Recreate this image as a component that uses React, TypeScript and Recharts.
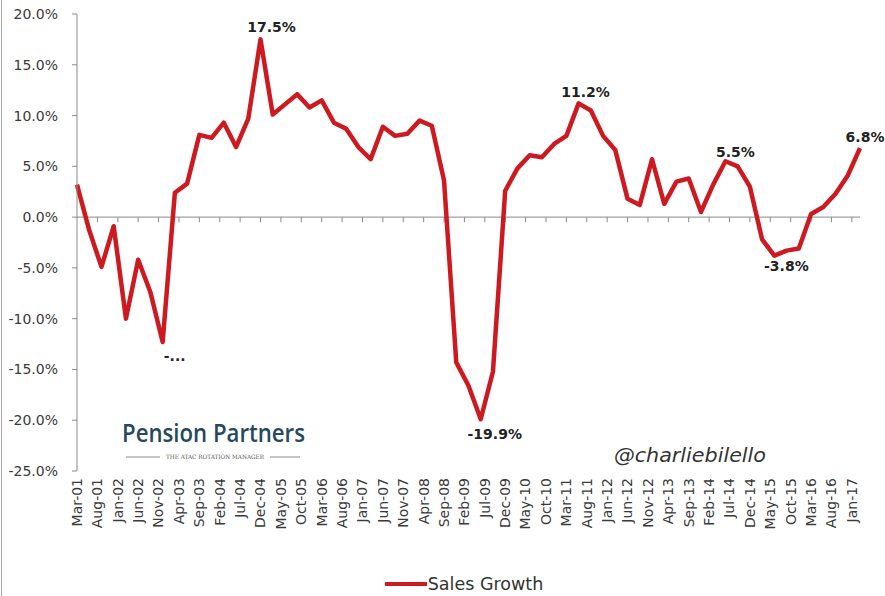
import { LineChart, Line, XAxis, YAxis, ReferenceLine, LabelList, Legend, Customized } from 'recharts'

// quarterly sales growth, Mar-01 .. Mar-17
const quarters = [
  'Mar-01', 'Jun-01', 'Sep-01', 'Dec-01', 'Mar-02', 'Jun-02', 'Sep-02', 'Dec-02',
  'Mar-03', 'Jun-03', 'Sep-03', 'Dec-03', 'Mar-04', 'Jun-04', 'Sep-04', 'Dec-04',
  'Mar-05', 'Jun-05', 'Sep-05', 'Dec-05', 'Mar-06', 'Jun-06', 'Sep-06', 'Dec-06',
  'Mar-07', 'Jun-07', 'Sep-07', 'Dec-07', 'Mar-08', 'Jun-08', 'Sep-08', 'Dec-08',
  'Mar-09', 'Jun-09', 'Sep-09', 'Dec-09', 'Mar-10', 'Jun-10', 'Sep-10', 'Dec-10',
  'Mar-11', 'Jun-11', 'Sep-11', 'Dec-11', 'Mar-12', 'Jun-12', 'Sep-12', 'Dec-12',
  'Mar-13', 'Jun-13', 'Sep-13', 'Dec-13', 'Mar-14', 'Jun-14', 'Sep-14', 'Dec-14',
  'Mar-15', 'Jun-15', 'Sep-15', 'Dec-15', 'Mar-16', 'Jun-16', 'Sep-16', 'Dec-16',
  'Mar-17',
]

const salesGrowth = [
  3.2, -1.3, -4.9, -0.9, -10.0, -4.2, -7.4, -12.3,
  2.4, 3.3, 8.1, 7.8, 9.3, 6.9, 9.7, 17.5,
  10.1, 11.1, 12.1, 10.8, 11.5, 9.3, 8.7, 6.9,
  5.7, 8.9, 8.0, 8.2, 9.5, 9.0, 3.6, -14.3,
  -16.6, -19.9, -15.2, 2.6, 4.8, 6.1, 5.9, 7.2,
  8.0, 11.2, 10.5, 8.0, 6.6, 1.8, 1.2, 5.7,
  1.3, 3.5, 3.8, 0.5, 3.2, 5.5, 5.0, 3.0,
  -2.2, -3.8, -3.3, -3.1, 0.3, 1.0, 2.3, 4.1,
  6.8,
]

const tickLabels = [
  'Mar-01', 'Aug-01', 'Jan-02', 'Jun-02', 'Nov-02', 'Apr-03', 'Sep-03', 'Feb-04',
  'Jul-04', 'Dec-04', 'May-05', 'Oct-05', 'Mar-06', 'Aug-06', 'Jan-07', 'Jun-07',
  'Nov-07', 'Apr-08', 'Sep-08', 'Feb-09', 'Jul-09', 'Dec-09', 'May-10', 'Oct-10',
  'Mar-11', 'Aug-11', 'Jan-12', 'Jun-12', 'Nov-12', 'Apr-13', 'Sep-13', 'Feb-14',
  'Jul-14', 'Dec-14', 'May-15', 'Oct-15', 'Mar-16', 'Aug-16', 'Jan-17',
]

const yTicks = [-25, -20, -15, -10, -5, 0, 5, 10, 15, 20]

// data labels as they appear in the source (the Dec-02 one is truncated there too)
const pointLabels: Record<string, string> = {
  'Dec-02': '-...',
  'Dec-04': '17.5%',
  'Jun-09': '-19.9%',
  'Jun-11': '11.2%',
  'Jun-14': '5.5%',
  'Jun-15': '-3.8%',
  'Mar-17': '6.8%',
}

// label offset from the point, px
const labelOffset: Record<string, [number, number]> = {
  'Dec-02': [12, 14],
  'Dec-04': [11, -12],
  'Jun-09': [14, 15],
  'Jun-11': [7, -11],
  'Jun-14': [10, -9],
  'Jun-15': [12, 10],
  'Mar-17': [5, -11],
}

const MONTHS = ['Jan', 'Feb', 'Mar', 'Apr', 'May', 'Jun', 'Jul', 'Aug', 'Sep', 'Oct', 'Nov', 'Dec']

// months since Mar-01
const monthOf = (label: string) => {
  const [mon, yy] = label.split('-')
  return (Number(yy) - 1) * 12 + MONTHS.indexOf(mon) - 2
}

const data = quarters.map((q, i) => ({ q, m: monthOf(q), v: salesGrowth[i] }))
const tickMonths = tickLabels.map(monthOf)
const tickText = new Map(tickLabels.map(t => [monthOf(t), t]))

const RED = '#cc1a20'
const AXIS = '#8a8a8a'
const FONT = '"DejaVu Sans", Verdana, sans-serif'

function XTick({ x, y, payload }: { x?: number; y?: number; payload?: { value: number } }) {
  const label = tickText.get(payload?.value ?? -1) ?? ''
  return (
    <text
      x={x} y={y}
      transform={`rotate(-90, ${x}, ${y})`}
      textAnchor="end" dy="0.35em"
      fontSize={14} fontFamily={FONT} fill="#3a3a3a"
    >
      {label}
    </text>
  )
}

function PointLabel(props: any) {
  const { x, y, index } = props
  const q = quarters[index]
  const text = pointLabels[q]
  if (!text) return null
  const [dx, dy] = labelOffset[q]
  return (
    <text
      x={x + dx} y={y + dy}
      textAnchor="middle" dominantBaseline="central"
      fontSize={14} fontWeight="bold" fontFamily={FONT} fill="#222"
    >
      {text}
    </text>
  )
}

function Marks() {
  return (
    <g>
      <line x1={1.5} y1={0} x2={1.5} y2={596} stroke="#a8a8a8" strokeWidth={1} />
      <text x={122} y={442} fontSize={25} fontWeight={600} fontFamily='"Open Sans", sans-serif' fill="#244a5c"
        textLength={183} lengthAdjust="spacingAndGlyphs">
        Pension Partners
      </text>
      <line x1={126} y1={457} x2={160} y2={457} stroke="#8a8a8a" strokeWidth={1} />
      <line x1={270} y1={457} x2={300} y2={457} stroke="#8a8a8a" strokeWidth={1} />
      <text x={215} y={459} textAnchor="middle" fontSize={6} fontFamily='"DejaVu Serif", serif' fill="#555"
        textLength={98} lengthAdjust="spacingAndGlyphs">
        THE ATAC ROTATION MANAGER
      </text>
      <text x={614} y={462} fontSize={20} fontStyle="italic" fontFamily={FONT} fill="#333"
        textLength={152} lengthAdjust="spacingAndGlyphs">
        @charliebilello
      </text>
    </g>
  )
}

function LegendContent() {
  return (
    <div style={{ display: 'flex', alignItems: 'center', justifyContent: 'center', paddingLeft: 68, height: 24 }}>
      <div style={{ width: 42, height: 4, background: RED }} />
      <span style={{ fontFamily: FONT, fontSize: 17.5, color: '#333', marginLeft: 1 }}>Sales Growth</span>
    </div>
  )
}

export default function App() {
  return (
    <div style={{ position: 'absolute', left: 0, top: 0, background: '#fff' }}>
      <LineChart width={885} height={596} data={data} margin={{ top: 14, right: 25, left: 0, bottom: 0 }}>
        <XAxis
          dataKey="m"
          type="number"
          domain={[0, 192]}
          ticks={tickMonths}
          interval={0}
          axisLine={false}
          tickLine={false}
          tickSize={0}
          tickMargin={7}
          height={101}
          tick={<XTick />}
        />
        <YAxis
          domain={[-25, 20]}
          ticks={yTicks}
          width={77}
          axisLine={{ stroke: AXIS }}
          tickLine={{ stroke: AXIS }}
          tickSize={5}
          tickMargin={14}
          tickFormatter={(v: number) => `${v.toFixed(1)}%`}
          tick={{ fontSize: 14, fontFamily: FONT, fill: '#3a3a3a' }}
        />
        <ReferenceLine y={0} stroke={AXIS} strokeWidth={1} />
        {tickMonths.slice(1).map(m => (
          <ReferenceLine key={m} segment={[{ x: m, y: 0 }, { x: m, y: -0.5 }]} stroke={AXIS} strokeWidth={1} />
        ))}
        <Line
          type="linear"
          dataKey="v"
          stroke={RED}
          strokeWidth={4.5}
          strokeLinejoin="round"
          dot={false}
          isAnimationActive={false}
        >
          <LabelList dataKey="v" content={<PointLabel />} />
        </Line>
        <Legend verticalAlign="bottom" content={<LegendContent />} />
        <Customized component={<Marks />} />
      </LineChart>
    </div>
  )
}
